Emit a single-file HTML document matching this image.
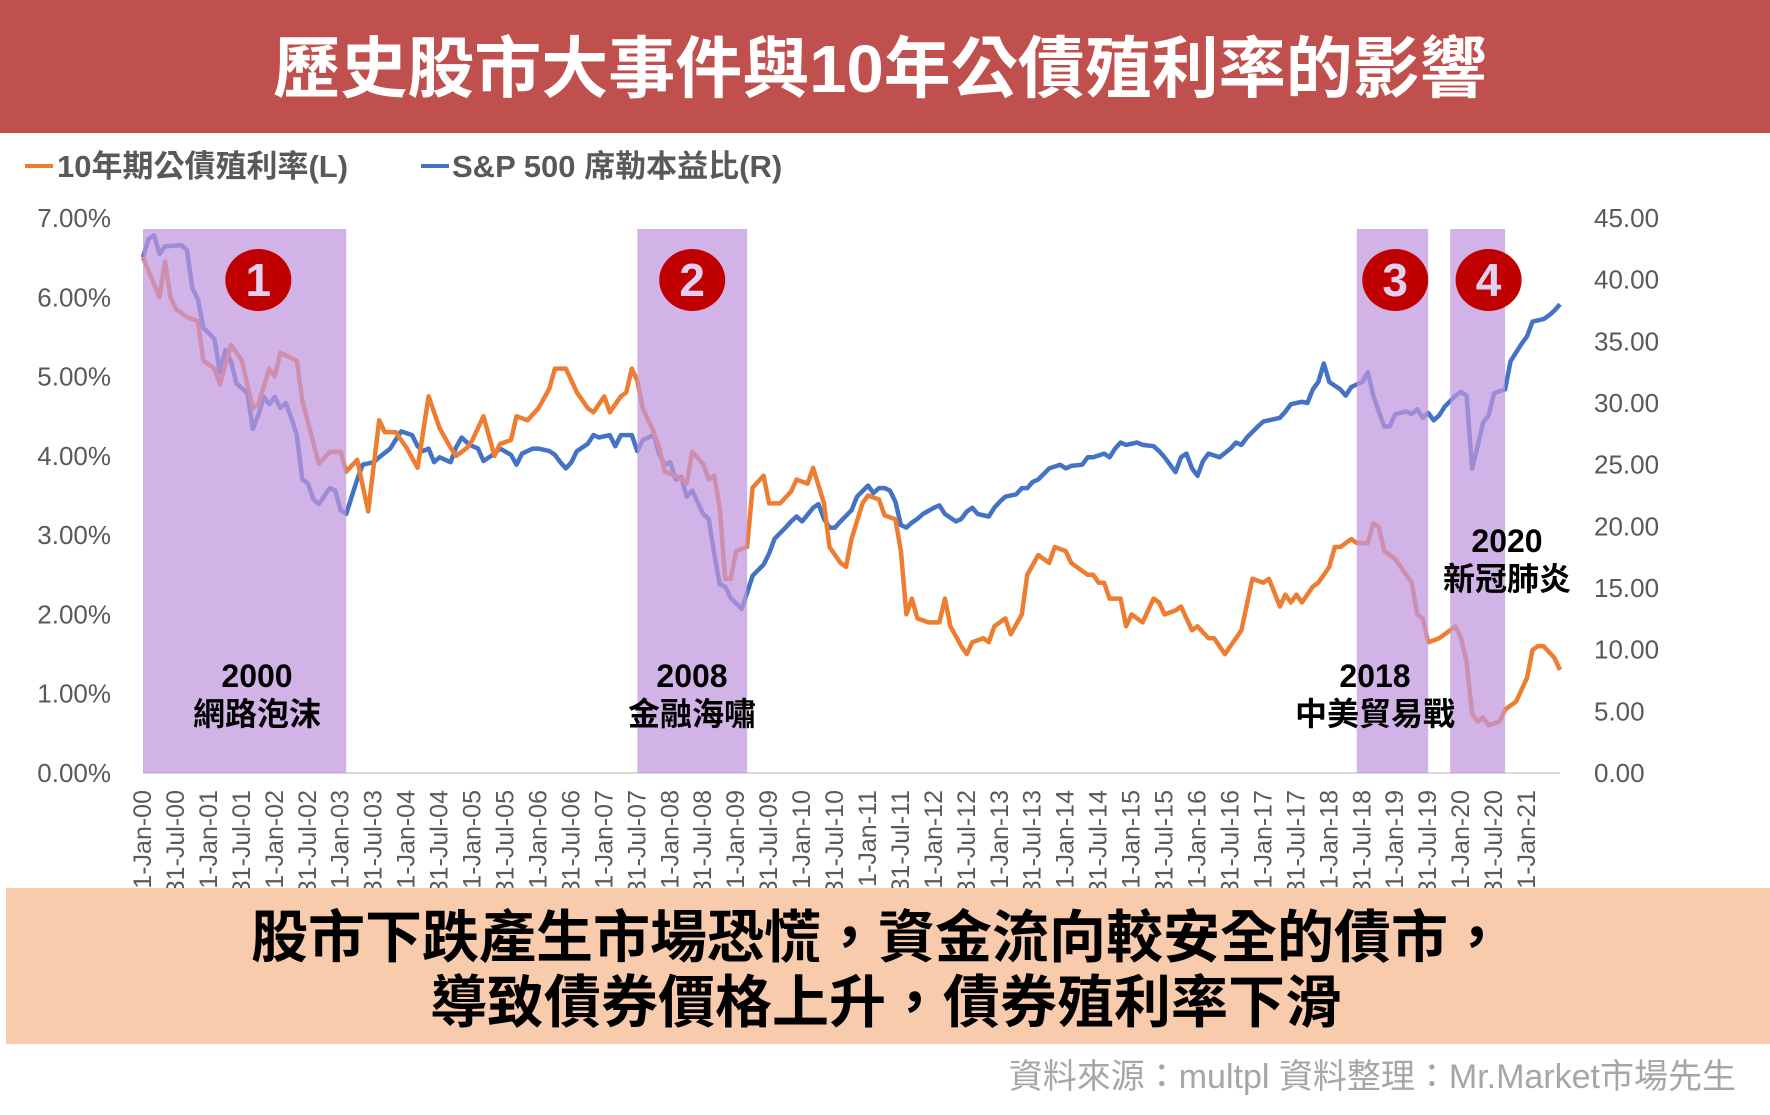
<!DOCTYPE html>
<html><head><meta charset="utf-8">
<style>
html,body{margin:0;padding:0;background:#fff;}
body{width:1770px;height:1115px;overflow:hidden;position:relative;font-family:"Liberation Sans","Noto Sans CJK TC",sans-serif;}
svg{position:absolute;left:0;top:0;}
</style></head>
<body>
<svg id="chart" width="1770" height="1115" viewBox="0 0 1770 1115" xmlns="http://www.w3.org/2000/svg">
  <rect x="0" y="0" width="1770" height="133" fill="#C0504D"/>
  <text x="880" y="92" text-anchor="middle" font-size="67" font-weight="bold" fill="#fff" font-family="Liberation Sans, Noto Sans CJK TC, sans-serif">歷史股市大事件與10年公債殖利率的影響</text>
  <g font-family="Liberation Sans, Noto Sans CJK TC, sans-serif" font-size="31" font-weight="bold" fill="#595959">
    <line x1="25" y1="166" x2="53" y2="166" stroke="#ED7D31" stroke-width="4"/>
    <text x="57" y="177">10年期公債殖利率(L)</text>
    <line x1="421" y1="166" x2="449" y2="166" stroke="#4472C4" stroke-width="4"/>
    <text x="452" y="177">S&amp;P 500 席勒本益比(R)</text>
  </g>
  <g id="axes"></g>
  <g id="lines"></g>
  <g id="bands"></g>
  <g id="annot"></g>
  <rect x="6" y="888" width="1764" height="156" fill="#F8CBAD"/>
  <g font-family="Liberation Sans, Noto Sans CJK TC, sans-serif" font-size="57" font-weight="bold" fill="#000" text-anchor="middle">
    <text x="878" y="957">股市下跌產生市場恐慌，資金流向較安全的債市，</text>
    <text x="886" y="1022">導致債券價格上升，債券殖利率下滑</text>
  </g>
  <text x="1736" y="1088" text-anchor="end" font-size="34" fill="#A6A6A6" font-family="Liberation Sans, Noto Sans CJK TC, sans-serif">資料來源：multpl 資料整理：Mr.Market市場先生</text>
</svg>
<script>
// ---- data ----
const yieldMonths = [0,3,4,5,6,8,10,11,13,14,16,18,20,21,23,24,25,28,29,32,34,36,37,39,41,43,44,46,48,50,51,52,54,56,57,59,60,62,64,65,67,68,70,72,74,75,77,79,81,82,84,85,87,88,89,90,91,93,94,95,97,99,100,102,103,104,105,106,107,108,110,111,113,114,116,118,119,121,122,124,125,127,128,129,131,132,134,135,137,138,139,140,141,143,145,146,147,149,150,151,153,154,155,157,158,160,161,163,165,166,168,169,170,172,173,174,175,176,178,179,180,182,184,185,186,188,189,191,192,194,195,197,198,200,202,204,205,207,208,209,210,211,213,214,216,217,218,220,221,223,224,225,226,228,229,231,232,233,234,236,237,239,240,241,242,243,244,245,247,248,250,252,253,254,255,257,258];
const yieldValues = [6.5,6.0,6.45,6.0,5.85,5.75,5.7,5.2,5.1,4.9,5.4,5.2,4.6,4.65,5.1,5.0,5.3,5.2,4.7,3.9,4.05,4.05,3.8,3.95,3.3,4.45,4.3,4.3,4.1,3.85,4.3,4.75,4.35,4.1,4.0,4.1,4.2,4.5,4.0,4.15,4.2,4.5,4.45,4.6,4.85,5.1,5.1,4.8,4.6,4.55,4.75,4.55,4.75,4.8,5.1,4.95,4.6,4.3,4.1,3.8,3.75,3.65,4.05,3.9,3.7,3.75,3.35,2.45,2.45,2.8,2.85,3.6,3.75,3.4,3.4,3.55,3.7,3.65,3.85,3.4,2.85,2.65,2.6,2.95,3.4,3.5,3.45,3.25,3.2,2.8,2.0,2.2,1.95,1.9,1.9,2.2,1.85,1.6,1.5,1.65,1.7,1.65,1.85,1.95,1.75,2.0,2.5,2.75,2.65,2.85,2.8,2.65,2.6,2.5,2.5,2.4,2.4,2.2,2.2,1.85,2.0,1.9,2.2,2.15,2.0,2.05,2.1,1.8,1.85,1.7,1.7,1.5,1.6,1.8,2.45,2.4,2.45,2.1,2.25,2.15,2.25,2.15,2.35,2.4,2.6,2.85,2.85,2.95,2.9,2.9,3.15,3.1,2.8,2.7,2.6,2.4,2.0,1.95,1.65,1.7,1.75,1.85,1.7,1.4,0.75,0.65,0.7,0.6,0.65,0.8,0.9,1.2,1.55,1.6,1.6,1.45,1.3];
const peMonths = [0,1,2,3,4,7,8,9,10,11,13,14,15,16,17,19,20,21,22,23,24,25,26,27,28,29,30,31,32,34,35,36,37,38,39,40,42,43,45,46,47,49,50,51,52,53,54,56,57,58,59,60,61,62,64,65,67,68,69,71,72,74,75,76,77,78,79,81,82,83,85,86,87,88,89,90,91,93,94,95,96,97,98,99,100,102,103,104,105,106,107,109,110,111,113,114,115,117,118,119,120,122,123,124,125,126,127,129,130,132,133,134,135,136,137,138,139,140,141,142,144,145,146,148,149,150,151,152,154,155,156,157,159,160,161,162,163,165,167,168,169,171,172,173,175,176,177,178,179,181,182,184,185,186,188,189,190,191,192,193,194,196,198,199,200,201,203,204,205,207,208,209,211,212,213,214,215,216,218,219,220,222,223,224,225,226,227,228,230,231,232,233,234,235,236,237,239,240,241,242,243,244,245,246,248,249,251,252,253,255,256,257,258];
const peValues = [41.8,43.3,43.6,42.1,42.7,42.8,42.4,39.3,38.4,36.1,35.2,32.5,34.3,33.4,31.6,30.8,27.9,29.0,30.5,29.9,30.5,29.6,30.0,28.8,27.4,23.8,23.5,22.2,21.8,23.1,22.9,21.3,21.0,22.4,23.8,25.0,25.2,25.6,26.3,27.0,27.7,27.4,26.5,26.1,26.3,25.2,25.6,25.2,26.4,27.2,26.8,26.5,26.3,25.3,25.9,26.3,25.8,25.0,25.9,26.3,26.3,26.1,25.8,25.2,24.7,25.2,26.1,26.7,27.4,27.2,27.4,26.5,27.4,27.4,27.4,26.1,27.0,27.4,25.8,25.0,25.2,23.8,24.0,22.4,22.9,21.0,20.6,17.8,15.3,15.1,14.2,13.3,14.6,16.0,16.9,17.8,19.0,19.9,20.4,20.8,20.4,21.5,21.8,20.6,19.9,19.9,20.4,21.3,22.4,23.3,22.7,23.1,23.1,22.9,22.0,20.1,19.9,20.3,20.6,21.0,21.5,21.7,21.0,20.4,20.6,21.2,21.5,21.0,20.8,21.5,22.0,22.4,22.6,23.1,23.1,23.6,23.8,24.7,25.0,24.7,24.9,25.0,25.6,25.6,25.9,25.6,26.3,26.8,26.6,26.8,26.6,26.5,26.1,25.6,24.4,25.6,25.9,24.7,24.1,25.3,25.9,25.6,26.3,26.8,26.6,27.2,28.1,28.5,28.6,28.8,29.3,29.9,30.1,30.0,31.1,31.7,33.2,31.7,31.1,30.6,31.3,31.7,32.5,30.6,29.3,28.1,28.1,29.1,29.3,29.1,29.5,28.8,29.2,28.6,29.0,29.7,30.6,30.9,30.6,24.7,26.5,28.4,29.0,30.8,31.1,33.4,34.8,35.4,36.6,36.8,37.1,37.5,38.0];
const leftTicks = [0,1,2,3,4,5,6,7];
const leftTickLabels = ["0.00%","1.00%","2.00%","3.00%","4.00%","5.00%","6.00%","7.00%"];
const rightTicks = [0,5,10,15,20,25,30,35,40,45];
const rightTickLabels = ["0.00","5.00","10.00","15.00","20.00","25.00","30.00","35.00","40.00","45.00"];
const monthNames = ["Jan","Jul"];
const bandStarts = [0,90,221,238];
const bandEnds = [37,110,234,248];
const badgeMonths = [21,100,228,245];
const eventNums = ["1","2","3","4"];
const eventYears = ["2000","2008","2018","2020"];
const eventNames = ["網路泡沫","金融海嘯","中美貿易戰","新冠肺炎"];

// ---- scales ----
const X0=143, X1=1560, Y0=773, YT=218, NM=258;
const xs = m => X0 + m*(X1-X0)/NM;
const yl = v => Y0 - v*(Y0-YT)/7;
const yr = v => Y0 - v*(Y0-YT)/45;
const NS="http://www.w3.org/2000/svg";
function mk(tag, attrs, parent){const e=document.createElementNS(NS,tag);for(const k in attrs)e.setAttribute(k,attrs[k]);parent.appendChild(e);return e;}

const axes=document.getElementById('axes');
const font='Liberation Sans, Noto Sans CJK TC, sans-serif';
leftTicks.forEach((v,i)=>{
  const t=mk('text',{x:111,y:yl(v)+9,'text-anchor':'end','font-size':26,fill:'#595959','font-family':font},axes);
  
  
  t.textContent=leftTickLabels[i];
});
rightTicks.forEach((v,i)=>{
  const t=mk('text',{x:1594,y:yr(v)+9,'font-size':26,fill:'#595959','font-family':font},axes);
  
  
  t.textContent=rightTickLabels[i];
});
const ax=mk('line',{x1:X0,y1:Y0,x2:X1,y2:Y0,stroke:'#D9D9D9','stroke-width':2},axes);


for(let m=0;m<=252;m+=6){
  const yr2=String(Math.floor(m/12)).padStart(2,'0');
  const lab="31-"+monthNames[(m/6)%2]+"-"+yr2;
  const x=xs(m)+8;
  const t=mk('text',{x:x,y:790,transform:`rotate(-90 ${x} 790)`,'text-anchor':'end','font-size':25,fill:'#595959','font-family':font},axes);
  
  
  t.textContent=lab;
}

const lines=document.getElementById('lines');
function path(ms,vs,sc){return ms.map((m,i)=>(i?'L':'M')+xs(m).toFixed(1)+','+sc(vs[i]).toFixed(1)).join(' ');}
const pe=mk('path',{d:path(peMonths,peValues,yr),fill:'none',stroke:'#4472C4','stroke-width':4.5,'stroke-linejoin':'round'},lines);


const yl1=mk('path',{d:path(yieldMonths,yieldValues,yl),fill:'none',stroke:'#ED7D31','stroke-width':4.5,'stroke-linejoin':'round'},lines);



const bands=document.getElementById('bands');
const annot=document.getElementById('annot');
bandStarts.forEach((s,i)=>{
  const b=mk('rect',{x:xs(s),y:229,width:xs(bandEnds[i])-xs(s),height:Y0-229,fill:'rgb(192,149,222)','fill-opacity':0.72},bands);
  
  
  const cx=xs(badgeMonths[i]);
  const c=mk('ellipse',{cx:cx,cy:280,rx:33,ry:31,fill:'#C00000'},annot);
  
  
  const n=mk('text',{x:cx,y:296,'text-anchor':'middle','font-size':46,'font-weight':'bold',fill:'#E3D0F0','font-family':font},annot);
  
  
  n.textContent=eventNums[i];
});
const lblX=[257,692,1375,1507], lblY=[687,687,687,552];
eventYears.forEach((y,i)=>{
  const t1=mk('text',{x:lblX[i],y:lblY[i],'text-anchor':'middle','font-size':32,'font-weight':'bold',fill:'#000','font-family':font},annot);
  
  
  t1.textContent=y;
  const t2=mk('text',{x:lblX[i],y:lblY[i]+38,'text-anchor':'middle','font-size':32,'font-weight':'bold',fill:'#000','font-family':font},annot);
  
  
  t2.textContent=eventNames[i];
});
</script>
</body></html>
